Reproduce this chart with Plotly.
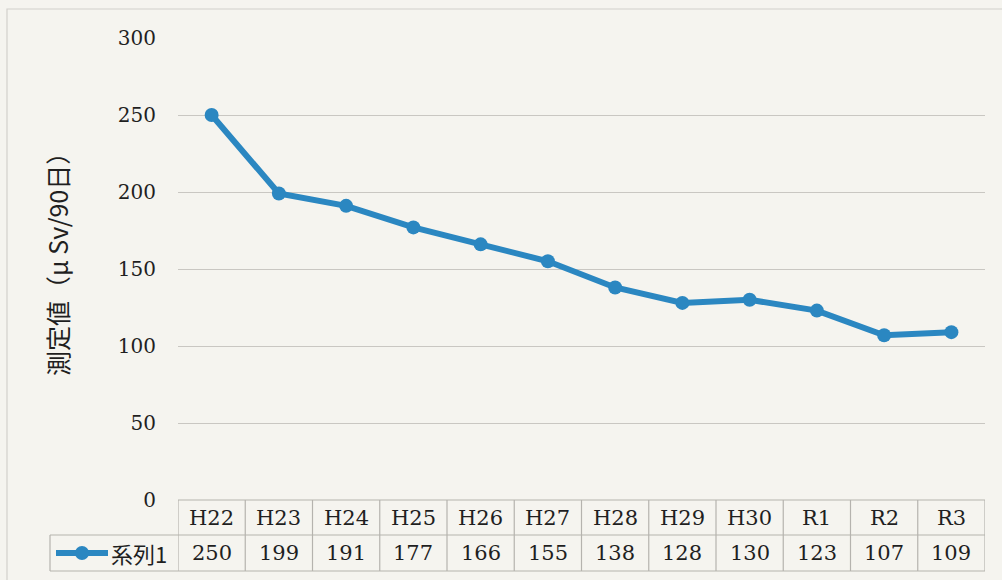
import plotly.graph_objects as go

categories = ["H22", "H23", "H24", "H25", "H26", "H27", "H28", "H29", "H30", "R1", "R2", "R3"]
values = [250, 199, 191, 177, 166, 155, 138, 128, 130, 123, 107, 109]
series_name = "系列1"
y_ticks = [0, 50, 100, 150, 200, 250, 300]
y_title = "測定値（μ Sv/90日）"

W, H = 1002, 580
LINE_COLOR = "#2b87c1"
GRID = "#c9c7c2"
BORDER = "#b5b3ae"
BG = "#f5f4ef"
SERIF = "DejaVu Serif"
SANS = "Noto Sans CJK JP"
TXT = "#1f1f1f"

def px(x):
    return x / W

def py(y):
    return 1 - y / H

plot_left, plot_right = 178, 985
plot_top, plot_bottom = 38, 500
row1_top, row_mid, row2_bottom = 500, 535, 571
legend_left = 50

fig = go.Figure()
fig.add_trace(go.Scatter(
    x=categories, y=values, mode="lines+markers", name=series_name,
    line=dict(color=LINE_COLOR, width=6),
    marker=dict(color=LINE_COLOR, size=14),
    showlegend=False, cliponaxis=False,
))

shapes = []
annotations = []

# outer frame
shapes.append(dict(type="rect", xref="paper", yref="paper",
                   x0=px(7), x1=px(1010), y0=py(600), y1=py(9),
                   line=dict(color="#d2d0cb", width=1.2)))

n = len(categories)
for yy in [row1_top, row_mid, row2_bottom]:
    shapes.append(dict(type="line", xref="x", yref="paper",
                       x0=-0.5, x1=n - 0.5, y0=py(yy), y1=py(yy),
                       line=dict(color=BORDER, width=1.2)))
for yy in [row_mid, row2_bottom]:
    shapes.append(dict(type="line", xref="paper", yref="paper",
                       x0=px(legend_left), x1=px(plot_left), y0=py(yy), y1=py(yy),
                       line=dict(color=BORDER, width=1.2)))
shapes.append(dict(type="line", xref="paper", yref="paper",
                   x0=px(legend_left), x1=px(legend_left), y0=py(row_mid), y1=py(row2_bottom),
                   line=dict(color=BORDER, width=1.2)))
for i in range(n + 1):
    shapes.append(dict(type="line", xref="x", yref="paper",
                       x0=i - 0.5, x1=i - 0.5, y0=py(row1_top), y1=py(row2_bottom),
                       line=dict(color=BORDER, width=1.2)))

for c, v in zip(categories, values):
    annotations.append(dict(x=c, y=py((row1_top + row_mid) / 2), xref="x", yref="paper",
                            text=c, showarrow=False, xanchor="center", yanchor="middle",
                            font=dict(family=SERIF, size=21, color=TXT)))
    annotations.append(dict(x=c, y=py((row_mid + row2_bottom) / 2), xref="x", yref="paper",
                            text=str(v), showarrow=False, xanchor="center", yanchor="middle",
                            font=dict(family=SERIF, size=21, color=TXT)))

ly = py((row_mid + row2_bottom) / 2)
shapes.append(dict(type="line", xref="paper", yref="paper",
                   x0=px(56), x1=px(108), y0=ly, y1=ly,
                   line=dict(color=LINE_COLOR, width=6)))
shapes.append(dict(type="circle", xref="paper", yref="paper",
                   x0=px(75), x1=px(89), y0=ly - 7 / H, y1=ly + 7 / H,
                   fillcolor=LINE_COLOR, line=dict(color=LINE_COLOR, width=0)))
annotations.append(dict(x=px(109), y=ly, xref="paper", yref="paper",
                        text=series_name, showarrow=False, xanchor="left", yanchor="middle",
                        font=dict(family=SANS, size=22, color=TXT)))

annotations.append(dict(x=px(57), y=py(258), xref="paper", yref="paper",
                        text=y_title, showarrow=False, textangle=-90,
                        xanchor="center", yanchor="middle",
                        font=dict(family=SANS, size=25, color=TXT)))

fig.update_layout(
    width=W, height=H,
    margin=dict(l=0, r=0, t=0, b=0, pad=0),
    paper_bgcolor=BG, plot_bgcolor=BG,
    xaxis=dict(domain=[px(plot_left), px(plot_right)], range=[-0.5, n - 0.5],
               type="category", showticklabels=False, showgrid=False,
               zeroline=False, showline=False, ticks="", automargin=False),
    yaxis=dict(domain=[py(plot_bottom), py(plot_top)], range=[0, 300],
               tickvals=y_ticks, ticktext=[str(t) for t in y_ticks],
               showgrid=True, gridcolor=GRID, gridwidth=1.2,
               zeroline=False, showline=False, ticks="", automargin=False,
               ticklabelstandoff=21,
               tickfont=dict(family=SERIF, size=20, color=TXT)),
    shapes=shapes, annotations=annotations,
    showlegend=False,
)

fig.write_html("out.html", config={"displayModeBar": False},
               post_script="document.body.style.margin='0';document.body.style.overflow='hidden';")
